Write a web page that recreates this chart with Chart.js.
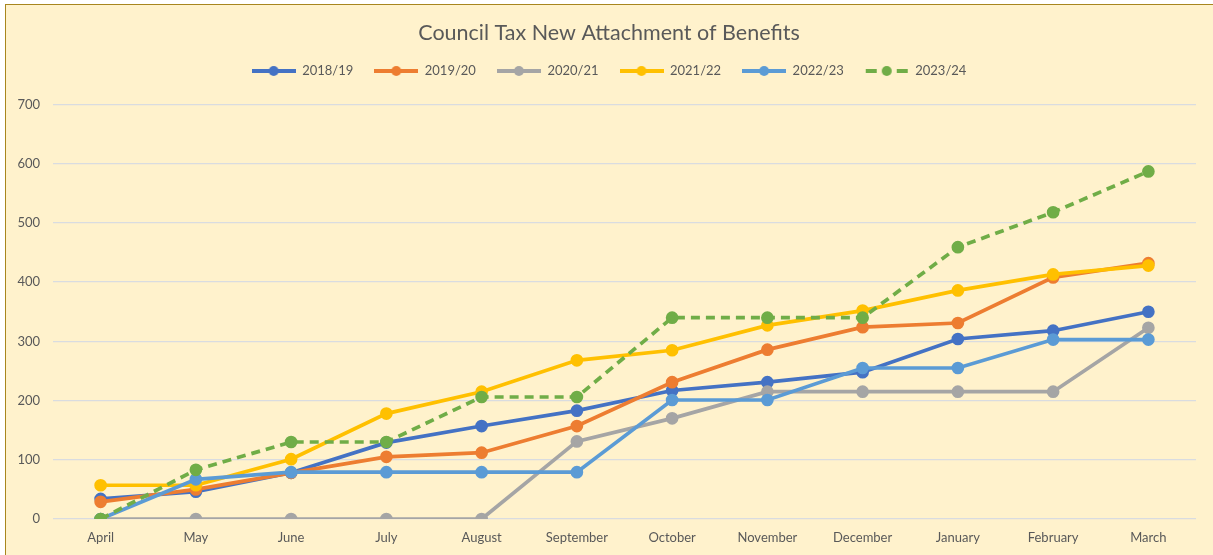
<!DOCTYPE html>
<html>
<head>
<meta charset="utf-8">
<script src="https://cdn.jsdelivr.net/npm/chart.js@4/dist/chart.umd.min.js"></script>
<style>
    html, body { margin: 0; padding: 0; background: #fff; overflow: hidden; }
    #frame {
        position: absolute; left: 5px; top: 4px; width: 1260px; height: 600px;
        background: #FFF2CC; border: 1.5px solid #A8861E;
    }
    #wrap { position: absolute; left: 0; top: 0; width: 1213px; height: 555px; }
</style>
</head>
<body>
<div id="frame"></div>
<div id="wrap"><canvas id="benefitsChart" width="1213" height="555"></canvas></div>
<script>
const months = ['April', 'May', 'June', 'July', 'August', 'September', 'October', 'November', 'December', 'January', 'February', 'March'];
const years = ['2018/19', '2019/20', '2020/21', '2021/22', '2022/23', '2023/24'];

const y2018 = [34, 46, 78, 129, 157, 183, 217, 231, 248, 304, 318, 350];
const y2019 = [29, 50, 78, 105, 112, 157, 231, 286, 324, 331, 408, 432];
const y2020 = [0, 0, 0, 0, 0, 131, 170, 215, 215, 215, 215, 323];
const y2021 = [57, 57, 101, 178, 215, 268, 285, 327, 352, 386, 413, 428];
const y2022 = [0, 67, 79, 79, 79, 79, 201, 201, 255, 255, 303, 303];
const y2023 = [0, 83, 130, 130, 206, 206, 340, 340, 340, 459, 518, 587];

const yTicks = [0, 100, 200, 300, 400, 500, 600, 700];

const colors = ['#4472C4', '#ED7D31', '#A5A5A5', '#FFC000', '#5B9BD5', '#70AD47'];
const seriesValues = [y2018, y2019, y2020, y2021, y2022, y2023];

const FONT = 'Lato, "Open Sans", sans-serif';
const TEXT = '#595959';

// small line-and-dot swatch used as the legend symbol
function swatch(color, dashed) {
    const c = document.createElement('canvas');
    c.width = 44; c.height = 12;
    const g = c.getContext('2d');
    g.strokeStyle = color;
    g.fillStyle = color;
    g.lineWidth = 3.8;
    g.beginPath();
    if (dashed) {
        g.moveTo(1, 6); g.lineTo(12, 6);
        g.moveTo(32, 6); g.lineTo(43, 6);
    } else {
        g.moveTo(0, 6); g.lineTo(44, 6);
    }
    g.stroke();
    g.beginPath();
    g.arc(22, 6, 5, 0, Math.PI * 2);
    g.fill();
    return c;
}

const datasets = years.map((label, i) => ({
    label,
    data: seriesValues[i],
    borderColor: colors[i],
    backgroundColor: colors[i],
    pointBackgroundColor: colors[i],
    pointBorderColor: colors[i],
    borderWidth: 3.7,
    borderDash: i === 5 ? [9, 6] : [],
    pointRadius: 4.5,
    pointHoverRadius: 4.5,
    tension: 0,
    order: years.length - i
}));

// leave a little more room under the legend row
const legendGap = {
    id: 'legendGap',
    beforeInit(chart) {
        const fit = chart.legend.fit;
        chart.legend.fit = function () {
            fit.call(this);
            this.height += 17;
        };
    }
};

// title and legend sit centred on the whole frame, not on the canvas
const headerShift = {
    id: 'headerShift',
    afterLayout(chart) {
        [chart.titleBlock, chart.legend].forEach(box => {
            box.left += 11;
            box.right += 11;
        });
    }
};

new Chart(document.getElementById('benefitsChart'), {
    type: 'line',
    data: { labels: months, datasets },
    plugins: [legendGap, headerShift],
    options: {
        responsive: false,
        animation: false,
        layout: { padding: { left: 0, right: 17, top: 0, bottom: 0 } },
        plugins: {
            title: {
                display: true,
                text: 'Council Tax New Attachment of Benefits',
                color: TEXT,
                font: { family: FONT, size: 21.5, weight: 'normal', lineHeight: 1 },
                padding: { top: 22, bottom: 0 }
            },
            legend: {
                position: 'top',
                labels: {
                    color: TEXT,
                    font: { family: FONT, size: 13 },
                    usePointStyle: true,
                    pointStyleWidth: 44,
                    padding: 21,
                    generateLabels: chart => chart.data.datasets.map((ds, i) => ({
                        text: ds.label,
                        pointStyle: swatch(ds.borderColor, i === 5),
                        fontColor: TEXT,
                        lineWidth: 0,
                        strokeStyle: 'transparent',
                        fillStyle: ds.borderColor,
                        datasetIndex: i,
                        hidden: false
                    }))
                }
            },
            tooltip: { enabled: false }
        },
        scales: {
            x: {
                offset: true,
                afterFit: scale => { scale.height = 36; },
                grid: { display: false, drawTicks: false },
                border: { display: false },
                ticks: {
                    color: TEXT,
                    font: { family: FONT, size: 13 },
                    padding: 11,
                    maxRotation: 0,
                    autoSkip: false
                }
            },
            y: {
                min: 0,
                max: 700,
                afterFit: scale => { scale.width = 53; },
                afterBuildTicks: scale => { scale.ticks = yTicks.map(v => ({ value: v })); },
                grid: { color: '#D9DCE0', lineWidth: 1.3, drawTicks: false },
                border: { display: false },
                ticks: {
                    color: TEXT,
                    font: { family: FONT, size: 13 },
                    padding: 13
                }
            }
        }
    }
});
</script>
</body>
</html>
